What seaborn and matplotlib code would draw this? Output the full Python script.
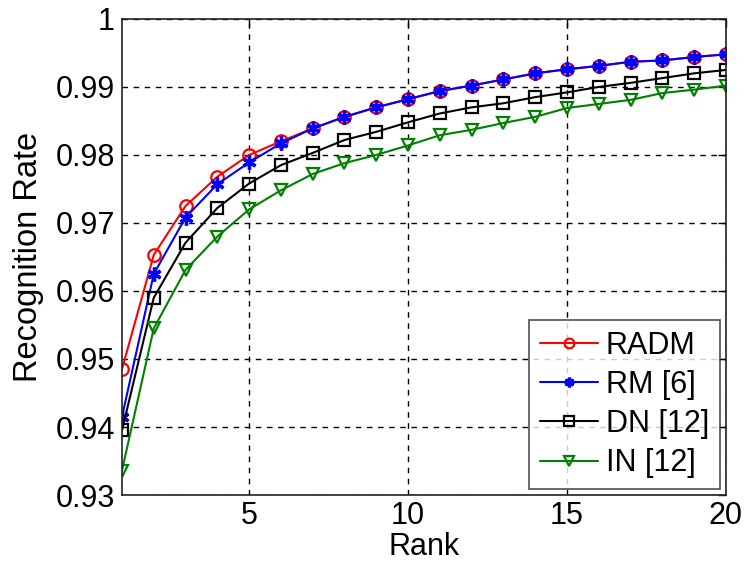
import matplotlib
matplotlib.use("Agg")
import matplotlib.pyplot as plt
import seaborn as sns
import pandas as pd
from matplotlib.ticker import FixedLocator, FuncFormatter

rank = list(range(1, 21))
radm = [0.9485, 0.9653, 0.9725, 0.9768, 0.9800, 0.9820, 0.9839, 0.9856, 0.9870, 0.9882,
        0.9894, 0.9902, 0.9911, 0.9920, 0.9926, 0.9931, 0.9937, 0.9939, 0.9944, 0.9948]
rm = [0.9415, 0.9625, 0.9708, 0.9757, 0.9789, 0.9817, 0.9839, 0.9856, 0.9870, 0.9882,
      0.9894, 0.9902, 0.9911, 0.9920, 0.9926, 0.9931, 0.9937, 0.9939, 0.9944, 0.9948]
dn = [0.9395, 0.9590, 0.9671, 0.9722, 0.9758, 0.9785, 0.9803, 0.9822, 0.9834, 0.9848,
      0.9861, 0.9870, 0.9876, 0.9885, 0.9892, 0.9900, 0.9906, 0.9913, 0.9920, 0.9925]
inn = [0.9336, 0.9545, 0.9631, 0.9680, 0.9720, 0.9748, 0.9772, 0.9788, 0.9800, 0.9814,
       0.9829, 0.9837, 0.9847, 0.9856, 0.9869, 0.9875, 0.9881, 0.9891, 0.9896, 0.9902]
labels = ["RADM", "RM [6]", "DN [12]", "IN [12]"]
colors = ["#ff0000", "#0000ff", "#000000", "#008000"]
markers = ["o", (6, 2, 0), "s", "v"]
xticks = [5, 10, 15, 20]
yticks = [0.93, 0.94, 0.95, 0.96, 0.97, 0.98, 0.99, 1.0]

sns.set_theme(style="white")
plt.rcParams['font.family'] = ['Liberation Sans', 'DejaVu Sans']
plt.rcParams['text.color'] = 'black'
plt.rcParams['axes.labelcolor'] = 'black'

fig = plt.figure(figsize=(7.46, 5.74), dpi=100)
ax = fig.add_axes([0.1635, 0.1376, 0.8095, 0.8294])

series = [radm, rm, dn, inn]
for vals, lab, c, m in zip(series, labels, colors, markers):
    df = pd.DataFrame({"Rank": rank, "Rate": vals})
    filled = m == (6, 2, 0)
    sns.lineplot(data=df, x="Rank", y="Rate", ax=ax, color=c, marker=m,
                 markersize=9 if not filled else 10, linewidth=1.5,
                 markerfacecolor="none" if not filled else c,
                 markeredgecolor=c, markeredgewidth=1.6 if not filled else 2.4,
                 label=lab)

ax.set_xlim(1, 20)
ax.set_ylim(0.93, 1.0)
ax.xaxis.set_major_locator(FixedLocator(xticks))
ax.yaxis.set_major_locator(FixedLocator(yticks))
ax.yaxis.set_major_formatter(FuncFormatter(lambda v, p: f"{v:.2f}".rstrip("0").rstrip(".")))
ax.tick_params(axis="both", labelsize=22, direction="in", length=6, top=True, right=True,
               colors="black", width=1.0)
ax.tick_params(axis="x", pad=4.5)
ax.tick_params(axis="y", pad=5)
ax.grid(True, color="black", linestyle=(0, (4, 4)), linewidth=1.0)
for s in ax.spines.values():
    s.set_color("#222222")
    s.set_linewidth(1.2)
ax.set_xlabel("Rank", fontsize=22, labelpad=0.5)
ax.set_ylabel("Recognition Rate", fontsize=23.5, labelpad=8.5)

leg = ax.legend(loc="lower right", fontsize=22, frameon=True, fancybox=False,
                edgecolor="#222222", handlelength=1.9, handletextpad=0.26,
                borderpad=0.35, labelspacing=0.3, borderaxespad=0.2)
leg.get_frame().set_linewidth(1.2)
for h in leg.legend_handles:
    h.set_markersize(7)

fig.savefig("out.png", dpi=100)
